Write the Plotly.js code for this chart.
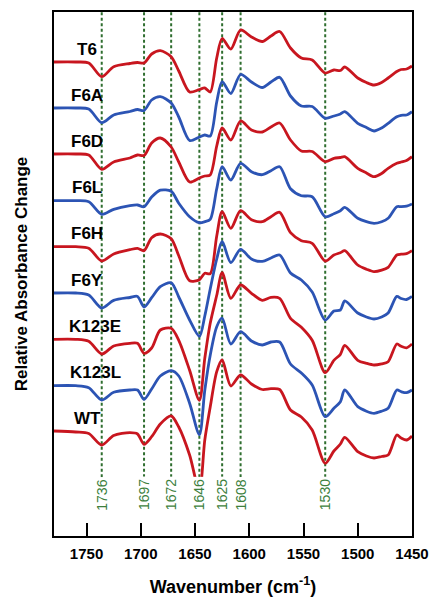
<!DOCTYPE html>
<html>
<head>
<meta charset="utf-8">
<script src="https://cdn.plot.ly/plotly-3.0.1.min.js"></script>
<style>html,body{margin:0;padding:0;background:#fff;}#chart{width:430px;height:597px;}</style>
</head>
<body>
<div id="chart"></div>
<script>
// Wavenumber grid (cm-1) at which each difference spectrum was read
const wavenumber = [1780,1760,1748,1736,1725,1710,1703,1697,1690,1682,1672,1665,1655,1646,1641,1636,1630,1625,1617,1608,1598,1588,1580,1572,1562,1552,1542,1530,1522,1516,1512,1500,1492,1485,1478,1472,1464,1460,1455,1450];

// Series names (top to bottom)
const seriesNames = ['T6','F6A','F6D','F6L','F6H','F6Y','K123E','K123L','WT'];

// Difference absorbance (arbitrary units, relative to each trace's baseline)
const T6    = [0,0,-1,-14.7,-4.7,-1.5,-0.5,-1,8,11.3,5.3,-9,-30,-27.5,-26,-30,4,23.5,13,32,25,20.5,26,30.5,14,4,2,-11,-8,-8.5,-5,-16,-20.5,-23,-20.5,-16,-9.5,-7.5,-7,-4];
const F6A   = [0,0,-1,-14.7,-7,-3.5,-1.5,-2.5,8,11.3,5,-9,-32.5,-29,-27,-28,6,26.3,14.5,33.5,26,20.5,26,30.7,12,2,1.5,-10.3,-8,-6,-3.7,-15.3,-19.5,-23,-20,-15.3,-8.7,-7.3,-7,-3.7];
const F6D   = [0,0,-1,-15.3,-8,-4,-1,-1.5,11,16,7,-8,-28,-24,-22,-21,8,26,14,33,24,22,27,31,14,3,2.5,-7.7,-4.3,-3.5,-2.7,-14.3,-19,-22.7,-19.5,-14.3,-9.3,-8,-6.5,-2.7];
const F6L   = [0,0,-1,-13.6,-8.6,-5,-4.3,-6,3.7,10.5,9.5,-2.5,-16,-22,-21,-18.6,12,34,20.7,37.4,29,26,30,34,12,5,4,-16,-13,-10,-6.6,-17.6,-21,-22.6,-21,-17.6,-6,-6,-5.5,-3.3];
const F6H   = [0,0,-1.5,-14.3,-7.3,-3,-1.6,-4,9,12.7,8,-9,-34,-33,-26.6,-27,10.7,35,18.4,36,27,25,30,34.4,14,6,3.4,-14.3,-8.3,-6,-4,-18.3,-22.5,-25,-23.5,-20.6,-8.3,-7.5,-7,-4];
const F6Y   = [0,0,-2,-15,-7.4,-4.5,-3.4,-14,-4.7,6.3,10.3,-4,-27,-43.4,-23,4,34,51.6,30.3,43.7,34,31.6,35,38,20,13,1,-27,-18,-17,-8,-20,-24,-26,-24,-20,-3.4,-5.5,-6.5,-3.4];
const K123E = [0,0,-2,-14.7,-6.7,-4,-4,-14,-8.7,9.3,11,-1,-31,-61,-19,16,44,66.6,41,54.3,46,39,42,41,21,12,-1,-33.4,-21,-15,-6,-21,-24,-25.7,-24.5,-22.4,-4.7,-7,-8.5,-4.7];
const K123L = [0,0,-2,-14.3,-6.6,-4.3,-4.3,-13.6,-3.3,9.7,15,9.7,-17.5,-49,-4.5,30.5,59,67.5,41.7,54,44.7,40.7,43.7,43.7,21.7,12.7,0.7,-31,-22.6,-16,-4.3,-21,-25.5,-27.6,-25.5,-22.6,-4.3,-6,-7,-4.3];
const WT    = [0,-1,-2.5,-14,-4.5,-1.7,-3,-13.3,-5.7,7,15,4,-24,-60,-9,24,59.3,71,45,56,47,41.5,42.3,41.5,21,14,1,-32.3,-20,-13,-6.3,-20.7,-25,-27,-25.5,-24,-4,-7,-9,-5];

// Vertical stacking offset of each trace (same units)
const stackOffset = [474,428,382,335.3,289.3,243,196.7,150.3,105];

// Marked band positions (cm-1)
const bandPositions = [1736,1697,1672,1646,1625,1608,1530];

// X-axis tick values
const xTicks = [1750,1700,1650,1600,1550,1500,1450];

const spectra = [T6,F6A,F6D,F6L,F6H,F6Y,K123E,K123L,WT];
const RED = '#c8161f', BLUE = '#2c54b4', GREEN = '#2f6e2f', GREEN_TXT = '#3d7f3d';
const FONT = 'Liberation Sans, Arial, Helvetica, sans-serif';

const traces = spectra.map((vals, i) => ({
  type: 'scatter',
  mode: 'lines',
  name: seriesNames[i],
  x: wavenumber,
  y: vals.map(v => v + stackOffset[i]),
  line: {color: i % 2 === 0 ? RED : BLUE, width: 2.8, shape: 'spline', smoothing: 0.8},
  hoverinfo: 'skip',
  showlegend: false
}));

const shapes = bandPositions.map(p => ({
  type: 'line', xref: 'x', yref: 'paper',
  x0: p, x1: p, y0: 0.07, y1: 1,
  line: {color: GREEN, width: 2, dash: '3px,2.5px'},
  layer: 'below'
}));

const annotations = [];
bandPositions.forEach(p => annotations.push({
  x: p, xref: 'x', y: 0.043, yref: 'paper',
  text: String(p), textangle: -90, showarrow: false,
  font: {family: FONT, size: 14, color: GREEN_TXT},
  bgcolor: 'white', borderpad: 2
}));
seriesNames.forEach((n, i) => annotations.push({
  x: n.length > 3 ? 1742 : 1749.5, xref: 'x',
  y: stackOffset[i] + 13, yref: 'y',
  text: n, showarrow: false, xanchor: 'center', yanchor: 'middle',
  font: {family: FONT, size: 17, color: '#000', weight: 'bold'}
}));

const layout = {
  width: 430, height: 597,
  margin: {l: 54, r: 18, t: 12, b: 61},
  paper_bgcolor: 'white', plot_bgcolor: 'white',
  showlegend: false,
  xaxis: {
    range: [1780, 1450], autorange: false,
    tickvals: xTicks, ticks: 'inside', ticklen: 13, tickwidth: 2, tickcolor: '#000',
    ticklabelstandoff: 3,
    showline: true, linewidth: 2, linecolor: '#000', mirror: true,
    showgrid: false, zeroline: false,
    tickfont: {family: FONT, size: 15, color: '#000', weight: 'bold'},
    title: {text: 'Wavenumber (cm<sup>-1</sup>)', font: {family: FONT, size: 18, color: '#000', weight: 'bold'}, standoff: 26}
  },
  yaxis: {
    range: [0, 524], autorange: false,
    showticklabels: false, ticks: '',
    showline: true, linewidth: 2, linecolor: '#000', mirror: true,
    showgrid: false, zeroline: false,
    title: {text: 'Relative Absorbance Change', font: {family: FONT, size: 17, color: '#000', weight: 'bold'}, standoff: 20}
  },
  shapes: shapes,
  annotations: annotations
};

Plotly.newPlot('chart', traces, layout, {staticPlot: true, displayModeBar: false});
</script>
</body>
</html>
